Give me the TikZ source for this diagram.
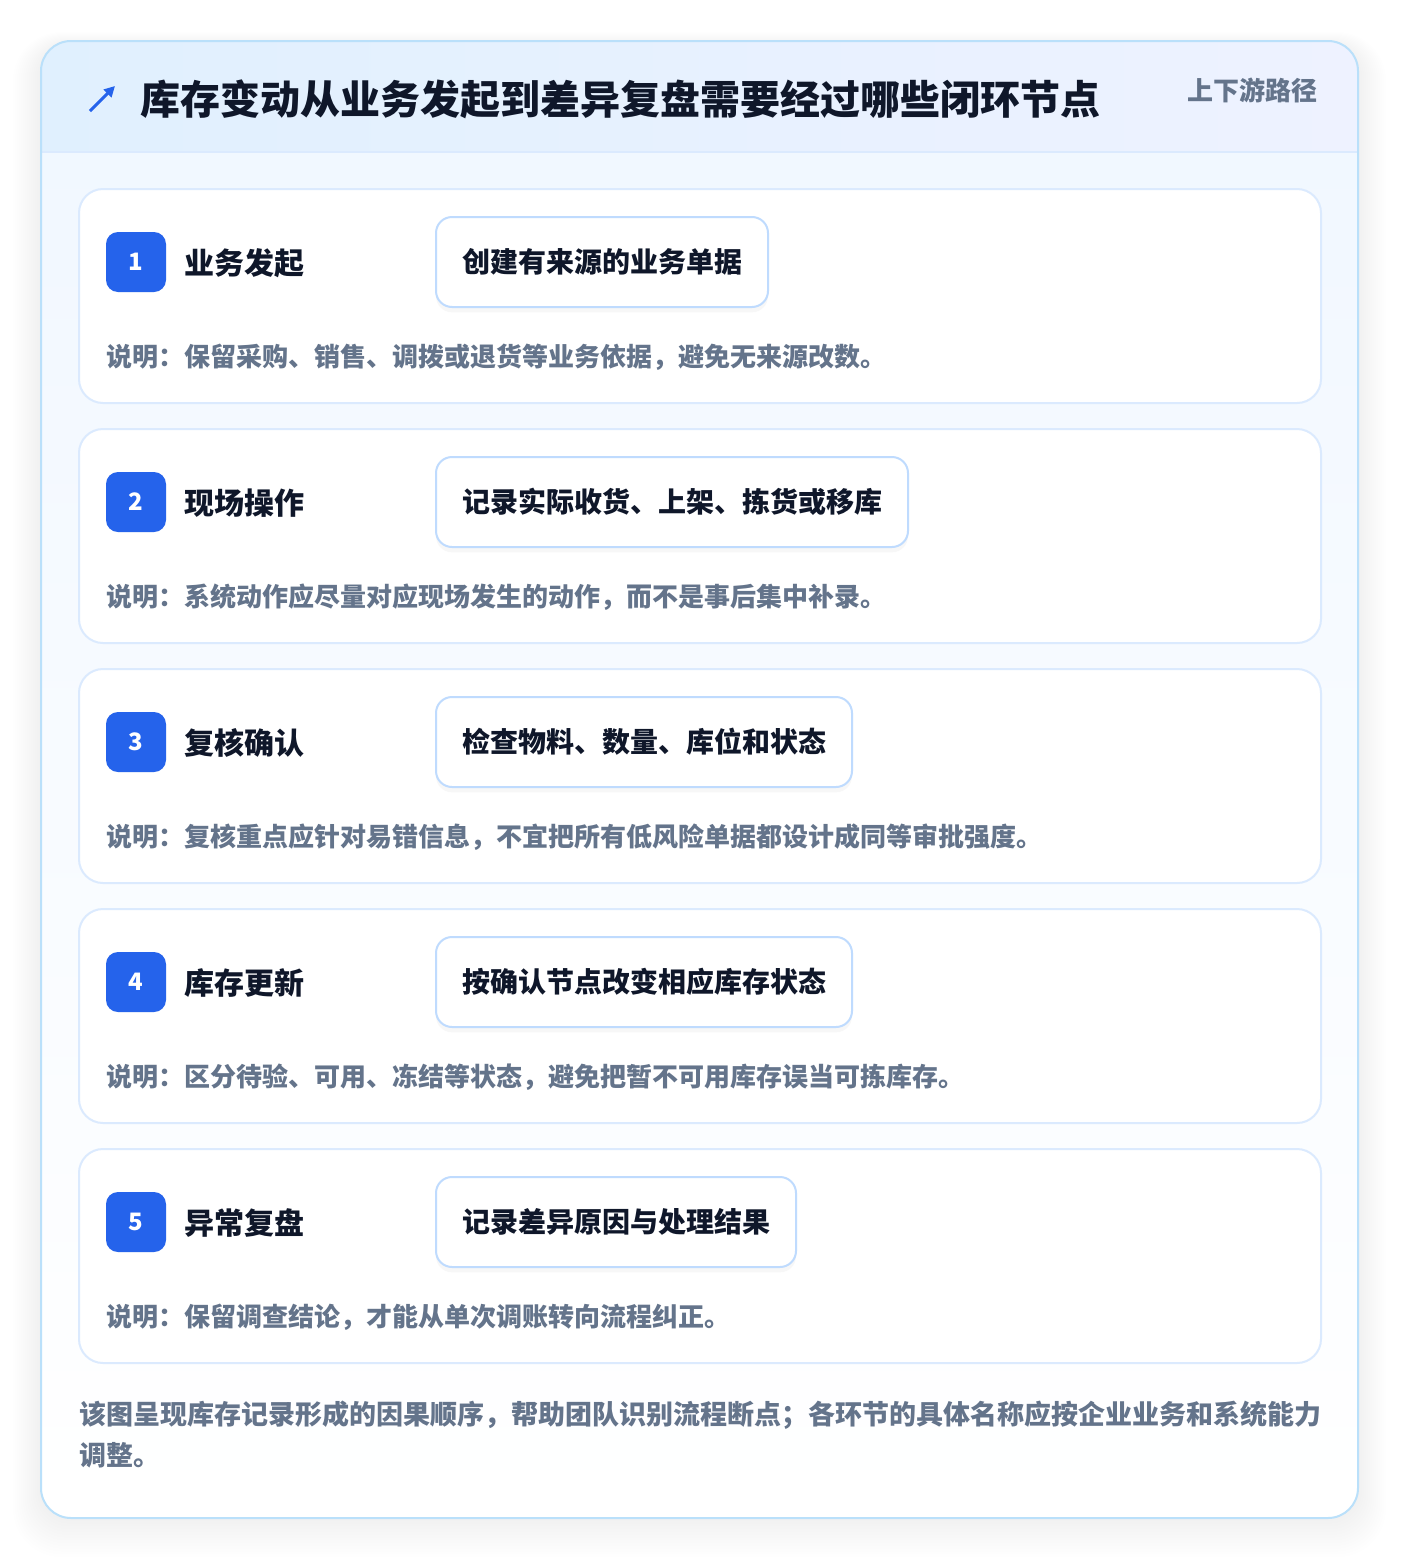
\documentclass[tikz,border=0pt]{standalone}
\usepackage{fontspec}
\setmainfont{Noto Sans CJK SC}[BoldFont={Noto Sans CJK SC Black}]
\usepackage{tikz}
\usetikzlibrary{calc}
\usetikzlibrary{shapes,arrows.meta,shadows}

\definecolor{inkdark}{HTML}{0F172A}
\definecolor{inkgray}{HTML}{64748B}
\definecolor{badgeblue}{HTML}{2563EB}
\definecolor{edgeblue}{HTML}{BFDBFE}
\definecolor{cardedge}{HTML}{DBEAFE}
\definecolor{outeredge}{HTML}{BAE0FA}
\definecolor{headleft}{HTML}{E0F0FE}
\definecolor{headright}{HTML}{EEF2FF}
\definecolor{bodytop}{HTML}{F0F7FF}

\begin{document}
\begin{tikzpicture}[x=0.75pt,y=-0.75pt,
    stepcard/.style={draw=cardedge, line width=1.5pt, fill=white, rounded corners=18pt},
    badgenode/.style={rectangle, fill=badgeblue, rounded corners=9pt, minimum width=45pt, minimum height=45pt, text=white, font=\fontsize{18}{20}\selectfont\bfseries},
    titlenode/.style={anchor=west, text=inkdark, inner sep=0pt, font=\fontsize{22.5}{24}\selectfont\bfseries},
    actionnode/.style={anchor=west, rectangle, draw=edgeblue, line width=1.5pt, fill=white, rounded corners=12pt, minimum height=67.5pt, inner xsep=19.5pt, text=inkdark, font=\fontsize{21}{24}\selectfont\bfseries, drop shadow={opacity=0.06, shadow xshift=0pt, shadow yshift=-4pt}},
    notenode/.style={anchor=west, inner sep=0pt, text=inkgray, font=\fontsize{19.5}{22}\selectfont\bfseries}
    ]
  \useasboundingbox (0,0) rectangle (1400,1560);
  \fill[white] (0,0) rectangle (1400,1560);
  % shadow and frame
  \foreach \s in {1,...,14}
    \fill[black, opacity=0.005, rounded corners=22.5pt+\s*1pt] (41-\s*2,46-\s*1) rectangle (1358+\s*2,1518+\s*2.8);
  \shade[top color=bodytop, bottom color=white, rounded corners=22.5pt] (41,41) rectangle (1358,1518);
  \begin{scope}
    \clip[rounded corners=22.5pt] (41,41) rectangle (1358,1518);
    \shade[left color=headleft, right color=headright] (41,41) rectangle (1358,152);
  \end{scope}
  \draw[cardedge, line width=1.5pt] (41,152) -- (1358,152);
  \draw[outeredge, line width=1.5pt, rounded corners=22.5pt] (41,41) rectangle (1358,1518);
  % header
  \coordinate (IconFoot) at (90,111);
  \coordinate (IconHead) at (115,86);
  \draw[badgeblue, line width=2.3pt, -{Triangle[length=8pt,width=8pt]}] (IconFoot) -- (IconHead);
  \node[anchor=west, inner sep=0pt, text=inkdark, font=\fontsize{30}{32}\selectfont\bfseries] (Title) at (140,99) {库存变动从业务发起到差异复盘需要经过哪些闭环节点};
  \node[anchor=east, inner sep=0pt, text=inkgray, font=\fontsize{19.5}{22}\selectfont\bfseries] (Route) at (1318,90) {上下游路径};
  % steps
  \foreach \n/\stepname/\action/\note [count=\i from 0] in {
      1/业务发起/创建有来源的业务单据/说明：保留采购、销售、调拨或退货等业务依据，避免无来源改数。,
      2/现场操作/记录实际收货、上架、拣货或移库/说明：系统动作应尽量对应现场发生的动作，而不是事后集中补录。,
      3/复核确认/检查物料、数量、库位和状态/说明：复核重点应针对易错信息，不宜把所有低风险单据都设计成同等审批强度。,
      4/库存更新/按确认节点改变相应库存状态/说明：区分待验、可用、冻结等状态，避免把暂不可用库存误当可拣库存。,
      5/异常复盘/记录差异原因与处理结果/说明：保留调查结论，才能从单次调账转向流程纠正。}
  {
    \pgfmathsetmacro{\cardtop}{189+240*\i}
    \draw[stepcard] (79,\cardtop) rectangle (1321,\cardtop+214);
    \node[badgenode] (Badge\n) at (136,\cardtop+73) {\n};
    \node[titlenode] (Step\n) at (184,\cardtop+74) {\stepname};
    \node[actionnode] (Action\n) at (435,\cardtop+73) {\action};
    \node[notenode] (Note\n) at (106,\cardtop+168) {\note};
  }
  % footer
  \node[anchor=north west, align=left, inner sep=0pt, text=inkgray, font=\fontsize{20.25}{30.75}\selectfont\bfseries] (Footer) at (79,1401) {该图呈现库存记录形成的因果顺序，帮助团队识别流程断点；各环节的具体名称应按企业业务和系统能力\\调整。};
\end{tikzpicture}
\end{document}
